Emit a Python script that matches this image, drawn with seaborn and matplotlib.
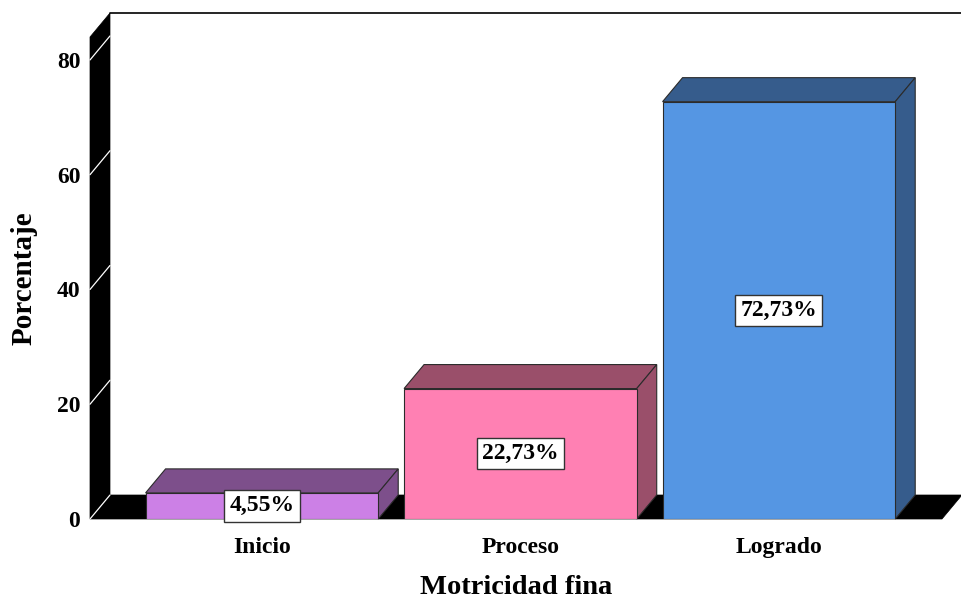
import numpy as np
import pandas as pd
import matplotlib
matplotlib.use("Agg")
import matplotlib.pyplot as plt
import seaborn as sns
from matplotlib.patches import Polygon

categories = ["Inicio", "Proceso", "Logrado"]
percentages = [4.55, 22.73, 72.73]
front_colors = ["#CC80E6", "#FF80B3", "#5596E3"]
shade_colors = ["#7D4F8B", "#9A4F6A", "#365C8C"]
y_ticks = [0, 20, 40, 60, 80]
x_title = "Motricidad fina"
y_title = "Porcentaje"

sns.set_theme(style="white")
plt.rcParams["font.family"] = ["Liberation Serif", "DejaVu Serif"]
plt.rcParams["font.weight"] = "bold"
plt.rcParams["text.color"] = "black"
plt.rcParams["axes.labelcolor"] = "black"
plt.rcParams["xtick.color"] = "black"
plt.rcParams["ytick.color"] = "black"

fig = plt.figure(figsize=(9.62, 6), dpi=100)
fig.patch.set_facecolor("white")
ax = fig.add_axes([90 / 962, 81 / 600, 852 / 962, 482 / 600])
ax.set_facecolor("none")

df = pd.DataFrame({"Nivel": categories, "Porcentaje": percentages})
sns.barplot(data=df, x="Nivel", y="Porcentaje", hue="Nivel", palette=front_colors,
            saturation=1, width=0.9, edgecolor="#2b2b2b", linewidth=0.8,
            legend=False, ax=ax, zorder=5)
bars = list(ax.patches)

x0, x1 = -0.665, 2.631
ytop = 84
ax.set_xlim(x0, x1)
ax.set_ylim(0, ytop)

# depth offset (20 px right, 24 px up) expressed in data units
p0 = ax.transData.transform((0, 0))
dxd, dyd = ax.transData.inverted().transform(p0 + np.array([20, 24]))

# back plane border
ax.plot([x0 + dxd, x1 + dxd], [ytop + dyd, ytop + dyd], color="black", lw=1.2,
        clip_on=False, zorder=1)
# left wall
ax.add_patch(Polygon([(x0, 0), (x0, ytop), (x0 + dxd, ytop + dyd), (x0 + dxd, dyd)],
                     closed=True, fc="black", ec="black", lw=0.5, clip_on=False, zorder=2))
# floor
ax.add_patch(Polygon([(x0, 0), (x1, 0), (x1 + dxd, dyd), (x0 + dxd, dyd)],
                     closed=True, fc="black", ec="black", lw=0.5, clip_on=False, zorder=2))
# tick lines on wall
for t in y_ticks:
    ax.plot([x0, x0 + dxd], [t, t + dyd], color="white", lw=0.9, clip_on=False, zorder=3)

# 3D faces of bars + labels
for i, patch in enumerate(bars):
    x = patch.get_x()
    w = patch.get_width()
    h = patch.get_height()
    top = [(x, h), (x + w, h), (x + w + dxd, h + dyd), (x + dxd, h + dyd)]
    side = [(x + w, 0), (x + w + dxd, dyd), (x + w + dxd, h + dyd), (x + w, h)]
    for poly in (top, side):
        ax.add_patch(Polygon(poly, closed=True, fc=shade_colors[i], ec="#2b2b2b",
                             lw=0.8, clip_on=False, zorder=4))
    label = f"{percentages[i]:.2f}%".replace(".", ",")
    ax.text(x + w / 2, h / 2, label, ha="center", va="center", fontsize=17,
            fontweight="bold", color="black", zorder=7, clip_on=False,
            bbox=dict(boxstyle="square,pad=0.22", fc="white", ec="#333333", lw=1))

for s in ax.spines.values():
    s.set_visible(False)
ax.set_yticks(y_ticks)
ax.tick_params(axis="y", length=0, pad=7, labelsize=17, labelcolor="black")
ax.tick_params(axis="x", length=0, pad=13, labelsize=17, labelcolor="black")
for lab in ax.get_xticklabels() + ax.get_yticklabels():
    lab.set_fontweight("bold")
ax.set_xlabel(x_title, fontsize=20.5, fontweight="bold", labelpad=12, color="black")
ax.set_ylabel(y_title, fontsize=21, fontweight="bold", labelpad=14, color="black")

fig.savefig("out.png", dpi=100, facecolor="white")
